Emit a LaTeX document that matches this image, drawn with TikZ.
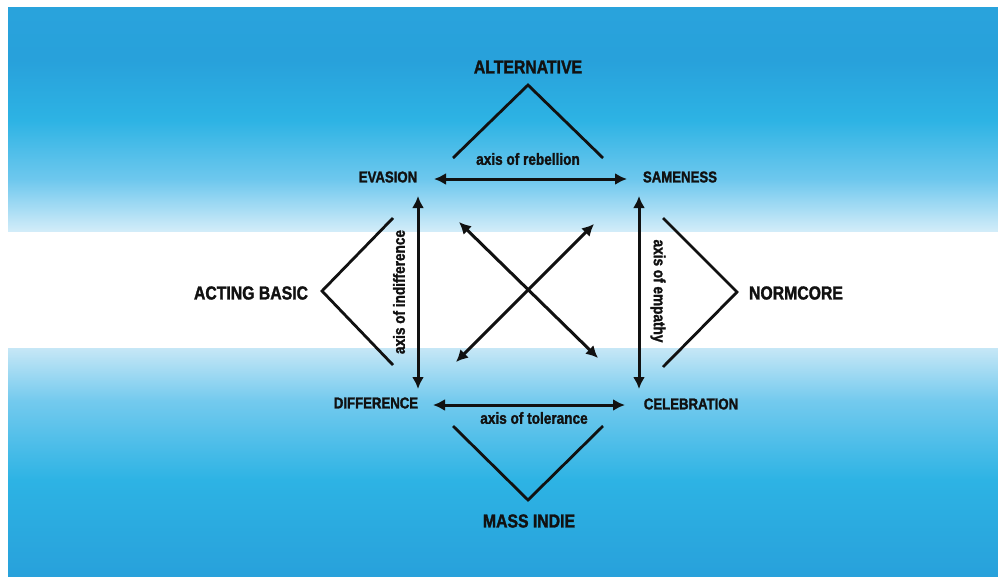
\documentclass[tikz,border=0pt]{standalone}
\usepackage{fontspec}
\newfontfamily\dfont{Liberation Sans Bold}[FakeStretch=0.84, FakeBold=1.6]
\usetikzlibrary{arrows.meta}
\definecolor{ink}{HTML}{111111}
\definecolor{bA}{HTML}{29A3DC}
\definecolor{bB}{HTML}{28A1DB}
\definecolor{bC}{HTML}{2DB3E4}
\definecolor{bD}{HTML}{6FC8EE}
\definecolor{bE}{HTML}{D4EDF9}
\definecolor{bF}{HTML}{C6E7F6}
\definecolor{bG}{HTML}{74CAEE}
\begin{document}
\begin{tikzpicture}[x=1pt,y=-1pt,
  big/.style={font=\dfont\fontsize{18.8}{20}\selectfont, text=ink, inner sep=0pt},
  small/.style={font=\dfont\fontsize{15.7}{17}\selectfont, text=ink, inner sep=0pt},
  axislbl/.style={font=\dfont\fontsize{16.2}{17}\selectfont, text=ink, inner sep=0pt},
  arr/.style={line width=3pt, draw=ink, {Latex[length=12pt,width=12pt]}-{Latex[length=12pt,width=12pt]}},
  chev/.style={line width=2.8pt, draw=ink}]
\useasboundingbox (0,0) rectangle (998,576);
\fill[white] (0,0) rectangle (998,576);
% background gradient
\shade[top color=bA, bottom color=bB] (8,7) rectangle (998,60.5);
\shade[top color=bB, bottom color=bC] (8,60) rectangle (998,120.5);
\shade[top color=bC, bottom color=bD] (8,120) rectangle (998,180.5);
\shade[top color=bD, bottom color=bE] (8,180) rectangle (998,232);
\fill[white] (8,232) rectangle (998,348);
\shade[top color=bF, bottom color=bG] (8,348) rectangle (998,400.5);
\shade[top color=bG, bottom color=bC] (8,400) rectangle (998,480.5);
\shade[top color=bC, bottom color=bB] (8,480) rectangle (998,576);
% labels
\node[big] (alt) at (528,67) {ALTERNATIVE};
\node[big] (act) at (251,293) {ACTING BASIC};
\node[big] (norm) at (796,293) {NORMCORE};
\node[big] (mass) at (529,521) {MASS INDIE};
\node[small] (eva) at (388,177) {EVASION};
\node[small] (same) at (680,177) {SAMENESS};
\node[small] (diff) at (376,403) {DIFFERENCE};
\node[small] (cel) at (691,404) {CELEBRATION};
\node[axislbl] (reb) at (528,159) {axis of rebellion};
\node[axislbl] (tol) at (534,418) {axis of tolerance};
\node[axislbl, rotate=90] (ind) at (399,292) {axis of indifference};
\node[axislbl, rotate=-90] (emp) at (658,291) {axis of empathy};
% arrow end points
\coordinate (tL) at (434,179);
\coordinate (tR) at (627,179);
\coordinate (bL) at (433,405);
\coordinate (bR) at (625,405);
\coordinate (lT) at (418,196);
\coordinate (lB) at (418,389);
\coordinate (rT) at (639,196);
\coordinate (rB) at (639,389);
\coordinate (d1a) at (459,222);
\coordinate (d1b) at (598,358);
\coordinate (d2a) at (594,224);
\coordinate (d2b) at (456,362);
\draw[arr] (tL) -- (tR);
\draw[arr] (bL) -- (bR);
\draw[arr] (lT) -- (lB);
\draw[arr] (rT) -- (rB);
\draw[arr] (d1a) -- (d1b);
\draw[arr] (d2a) -- (d2b);
% chevrons
\coordinate (cT1) at (453,158); \coordinate (cTa) at (528,85); \coordinate (cT2) at (603,158);
\coordinate (cB1) at (453,426); \coordinate (cBa) at (528,500); \coordinate (cB2) at (603,426);
\coordinate (cL1) at (393,218); \coordinate (cLa) at (322,291); \coordinate (cL2) at (393,365);
\coordinate (cR1) at (663,218); \coordinate (cRa) at (737,292); \coordinate (cR2) at (663,367);
\draw[chev] (cT1) -- (cTa) -- (cT2);
\draw[chev] (cB1) -- (cBa) -- (cB2);
\draw[chev] (cL1) -- (cLa) -- (cL2);
\draw[chev] (cR1) -- (cRa) -- (cR2);
\end{tikzpicture}
\end{document}
